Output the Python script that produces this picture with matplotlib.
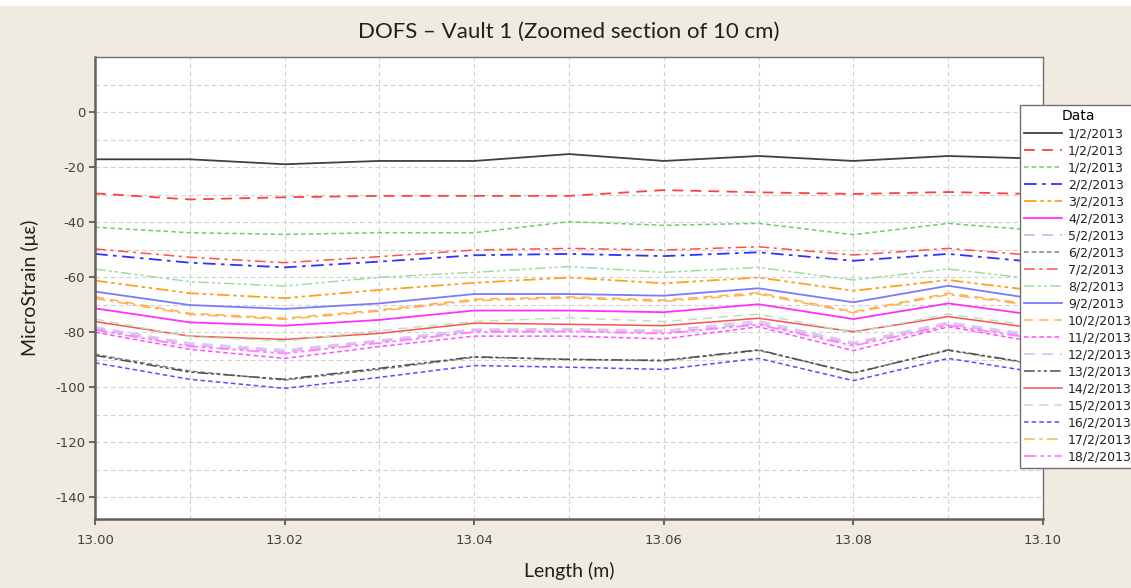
import matplotlib
matplotlib.use("Agg")
import matplotlib.pyplot as plt
from matplotlib.ticker import FixedLocator
from matplotlib.patches import Rectangle

plt.rcParams["axes.unicode_minus"] = False

length_m = [13.00, 13.01, 13.02, 13.03, 13.04, 13.05, 13.06, 13.07, 13.08, 13.09, 13.10]

labels = ["1/2/2013", "1/2/2013", "1/2/2013", "2/2/2013", "3/2/2013", "4/2/2013",
          "5/2/2013", "6/2/2013", "7/2/2013", "8/2/2013", "9/2/2013", "10/2/2013",
          "11/2/2013", "12/2/2013", "13/2/2013", "14/2/2013", "15/2/2013", "16/2/2013",
          "17/2/2013", "18/2/2013"]

x_ticks = [13.00, 13.02, 13.04, 13.06, 13.08, 13.10]
x_tick_labels = ["13.00", "13.02", "13.04", "13.06", "13.08", "13.10"]
y_ticks = [0, -20, -40, -60, -80, -100, -120, -140]

s01 = [-17.2, -17.2, -19.0, -17.8, -17.8, -15.3, -17.8, -16.0, -17.8, -16.0, -17.0]
s02 = [-29.6, -31.8, -31.0, -30.5, -30.5, -30.5, -28.4, -29.2, -29.8, -29.1, -29.9]
s03 = [-41.9, -43.9, -44.5, -43.9, -43.9, -39.9, -41.2, -40.5, -44.6, -40.5, -43.2]
s04 = [-51.6, -54.8, -56.5, -54.4, -52.1, -51.6, -52.4, -51.0, -54.1, -51.6, -54.8]
s05 = [-61.3, -65.9, -67.7, -64.7, -62.1, -60.2, -62.3, -60.2, -65.0, -61.1, -65.3]
s06 = [-71.4, -76.5, -77.7, -75.6, -72.2, -72.2, -72.8, -69.9, -75.3, -69.6, -74.2]
s07 = [-78.7, -84.7, -87.2, -83.5, -79.5, -79.4, -80.2, -76.8, -84.4, -77.1, -82.3]
s08 = [-88.1, -94.2, -97.5, -93.6, -89.2, -89.9, -90.5, -86.7, -94.8, -86.7, -92.2]
s09 = [-49.8, -52.8, -54.8, -52.6, -50.2, -49.6, -50.2, -49.0, -52.0, -49.6, -52.4]
s10 = [-57.1, -61.7, -63.3, -60.1, -58.3, -56.2, -58.3, -56.5, -61.1, -57.1, -61.1]
s11 = [-65.3, -70.2, -71.6, -69.6, -66.2, -66.2, -66.8, -64.1, -69.2, -63.2, -68.4]
s12 = [-67.2, -73.2, -75.0, -72.0, -68.1, -67.2, -68.4, -65.7, -72.6, -65.9, -70.4]
s13 = [-80.1, -86.3, -89.6, -85.3, -81.5, -81.5, -82.5, -78.1, -86.8, -78.1, -84.1]
s14 = [-78.2, -84.0, -86.5, -83.0, -79.0, -78.8, -79.5, -76.0, -83.8, -76.5, -81.5]
s15 = [-88.5, -94.6, -97.2, -93.2, -89.0, -90.0, -90.3, -86.5, -95.0, -86.5, -92.0]
s16 = [-76.2, -81.5, -82.7, -80.5, -76.8, -77.2, -77.7, -75.0, -79.9, -74.4, -79.0]
s17 = [-75.3, -81.7, -83.3, -79.5, -76.2, -74.8, -76.2, -73.5, -80.2, -73.5, -78.3]
s18 = [-91.2, -97.2, -100.5, -96.5, -92.2, -92.8, -93.6, -89.6, -97.7, -89.6, -95.0]
s19 = [-67.8, -73.6, -75.4, -72.4, -68.6, -67.6, -68.9, -66.2, -73.0, -66.4, -70.8]
s20 = [-79.2, -85.2, -87.8, -84.0, -80.0, -79.8, -80.6, -77.3, -85.0, -77.6, -82.8]

series = [s01, s02, s03, s04, s05, s06, s07, s08, s09, s10,
          s11, s12, s13, s14, s15, s16, s17, s18, s19, s20]

styles = [
    dict(color="#404040", ls="-", lw=1.3),
    dict(color="#ff4040", ls=(0, (6, 4)), lw=1.3),
    dict(color="#70cc70", ls=(0, (3, 2)), lw=1.1),
    dict(color="#3030ff", ls=(0, (7, 3, 2, 3)), lw=1.3),
    dict(color="#ffa020", ls=(0, (7, 2, 2, 2, 2, 2)), lw=1.3),
    dict(color="#ff30ff", ls="-", lw=1.3),
    dict(color="#d8b4f0", ls=(0, (6, 4)), lw=1.3),
    dict(color="#808080", ls=(0, (3, 2)), lw=1.1),
    dict(color="#ff5050", ls=(0, (7, 3, 2, 3)), lw=1.1),
    dict(color="#a0dca0", ls=(0, (7, 2, 2, 2, 2, 2)), lw=1.1),
    dict(color="#7a7aff", ls="-", lw=1.3),
    dict(color="#ffb050", ls=(0, (6, 4)), lw=1.1),
    dict(color="#ff50ff", ls=(0, (3, 2)), lw=1.1),
    dict(color="#e0c0f0", ls=(0, (6, 4)), lw=1.3),
    dict(color="#505050", ls=(0, (7, 2, 2, 2, 2, 2)), lw=1.1),
    dict(color="#ff5050", ls="-", lw=1.1),
    dict(color="#b8e4b8", ls=(0, (6, 4)), lw=1.1),
    dict(color="#5050ff", ls=(0, (3, 2)), lw=1.1),
    dict(color="#ffb050", ls=(0, (7, 3, 2, 3)), lw=1.1),
    dict(color="#ff80ff", ls=(0, (7, 2, 2, 2, 2, 2)), lw=1.3),
]

bg = "#efebe1"
fig = plt.figure(figsize=(11.31, 5.88), dpi=100, facecolor=bg)
fig.patches.append(Rectangle((0, 0.99), 1, 0.02, transform=fig.transFigure,
                             facecolor="white", edgecolor="none", zorder=-1))

W, H = 1131, 588
left, right, top, bottom = 95, 1043, 57, 519
ax = fig.add_axes([left / W, 1 - bottom / H, (right - left) / W, (bottom - top) / H])
ax.set_facecolor("white")

for vals, lab, st in zip(series, labels, styles):
    ax.plot(length_m, vals, label=lab, color=st["color"], linestyle=st["ls"], linewidth=st["lw"])

ax.set_xlim(13.00, 13.10)
ax.set_ylim(-148, 20)
ax.xaxis.set_major_locator(FixedLocator(x_ticks))
ax.xaxis.set_minor_locator(FixedLocator([13.01, 13.03, 13.05, 13.07, 13.09]))
ax.yaxis.set_major_locator(FixedLocator(y_ticks))
ax.yaxis.set_minor_locator(FixedLocator([10, -10, -30, -50, -70, -90, -110, -130]))
ax.set_xticklabels(x_tick_labels)
ax.set_yticklabels([str(v) for v in y_ticks])

ax.grid(True, which="both", color="#cfcfcf", linestyle=(0, (4, 3)), linewidth=0.8)
ax.tick_params(axis="both", which="major", direction="out", length=4, width=1.2,
               color="#505050", labelcolor="#404040", labelsize=9.5)
ax.tick_params(axis="both", which="minor", length=0)
ax.tick_params(axis="x", pad=7)
ax.tick_params(axis="y", pad=3)
for lab in ax.get_xticklabels() + ax.get_yticklabels():
    lab.set_family(["DejaVu Sans"])

for side in ["left", "bottom"]:
    ax.spines[side].set_color("#606060")
    ax.spines[side].set_linewidth(1.8)
for side in ["top", "right"]:
    ax.spines[side].set_color("#707070")
    ax.spines[side].set_linewidth(1.0)

fig.text((left + right) / 2 / W, 1 - 32 / H, "DOFS \u2013 Vault 1 (Zoomed section of 10 cm)",
         ha="center", va="center", fontsize=16, family=["Lato", "DejaVu Sans"], color="#202020")
fig.text((left + right) / 2 / W, 1 - 571 / H, "Length (m)", ha="center", va="center",
         fontsize=14, family=["Lato", "DejaVu Sans"], color="#202020")
fig.text(30 / W, 1 - 288 / H, "MicroStrain (\u03bc\u03b5)", ha="center", va="center",
         rotation=90, fontsize=14, family=["Lato", "DejaVu Sans"], color="#202020")

leg = ax.legend(loc="upper left", bbox_to_anchor=(1020 / W, 1 - 105 / H),
                bbox_transform=fig.transFigure, title="Data", fontsize=9,
                title_fontsize=10, frameon=True, fancybox=False, framealpha=1,
                edgecolor="#707070", handlelength=3.0, labelspacing=0.32,
                borderpad=0.35, handletextpad=0.5, borderaxespad=0)
leg.get_frame().set_linewidth(1.0)
for t in leg.get_texts():
    t.set_family(["DejaVu Sans"])
    t.set_color("#202020")
leg.get_title().set_family(["DejaVu Sans"])
leg.set_zorder(10)

fig.savefig("out.png", dpi=100, facecolor=bg)
